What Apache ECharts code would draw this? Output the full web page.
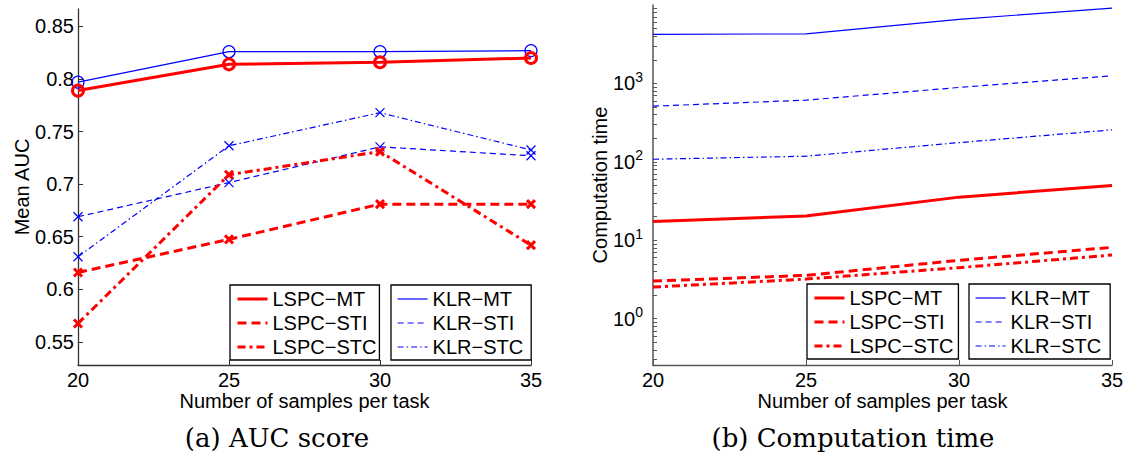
<!DOCTYPE html>
<html>
<head>
<meta charset="utf-8">
<script src="https://cdn.jsdelivr.net/npm/echarts@6/dist/echarts.min.js"></script>
<style>
html, body { margin: 0; padding: 0; background: #fff; }
#chart { width: 1127px; height: 458px; }
</style>
</head>
<body>
<div id="chart"></div>
<script>
// ---------------- data ----------------
const samples = [20, 25, 30, 35];
const nameLspcMT = 'LSPC\u2212MT';
const nameLspcSTI = 'LSPC\u2212STI';
const nameLspcSTC = 'LSPC\u2212STC';
const nameKlrMT = 'KLR\u2212MT';
const nameKlrSTI = 'KLR\u2212STI';
const nameKlrSTC = 'KLR\u2212STC';

const aucLspcMT  = [0.789, 0.814, 0.816, 0.820];
const aucLspcSTI = [0.616, 0.6475, 0.681, 0.681];
const aucLspcSTC = [0.5675, 0.709, 0.731, 0.642];
const aucKlrMT   = [0.797, 0.826, 0.826, 0.827];
const aucKlrSTI  = [0.669, 0.7015, 0.7355, 0.727];
const aucKlrSTC  = [0.631, 0.7365, 0.768, 0.7325];

const timeLspcMT  = [17.3, 20.4, 35.5, 49.9];
const timeLspcSTI = [3.02, 3.57, 5.55, 8.13];
const timeLspcSTC = [2.53, 3.2, 4.48, 6.49];
const timeKlrMT   = [4220, 4290, 6560, 9140];
const timeKlrSTI  = [513, 612, 889, 1250];
const timeKlrSTC  = [108, 118, 176, 256];

const aucTickValues = [0.55, 0.6, 0.65, 0.7, 0.75, 0.8, 0.85];
const timeTickValues = [1, 10, 100, 1000];
const timeMinorTickValues = [0.3, 0.4, 0.5, 0.6, 0.7, 0.8, 0.9,
  2, 3, 4, 5, 6, 7, 8, 9,
  20, 30, 40, 50, 60, 70, 80, 90,
  200, 300, 400, 500, 600, 700, 800, 900,
  2000, 3000, 4000, 5000, 6000, 7000, 8000, 9000];

const xTitle = 'Number of samples per task';
const aucTitle = 'Mean AUC';
const timeTitle = 'Computation time';
const captionA = '(a) AUC score';
const captionB = '(b) Computation time';

// ---------------- styles ----------------
const RED = '#ff0000';
const BLUE = '#0000ff';
const SANS = '"Liberation Sans", Arial, Helvetica, sans-serif';
const SERIF = '"DejaVu Serif", serif';
const X_SYMBOL = 'path://M0,0L10,10M10,0L0,10';

const styles = {};
styles[nameLspcMT]  = { color: RED,  width: 3,   type: 'solid',        symbol: 'circle', size: 11, bw: 3 };
styles[nameLspcSTI] = { color: RED,  width: 3,   type: [9, 5],         symbol: X_SYMBOL, size: 8,  bw: 3 };
styles[nameLspcSTC] = { color: RED,  width: 3,   type: [8, 4, 3, 4],   symbol: X_SYMBOL, size: 8,  bw: 3 };
styles[nameKlrMT]   = { color: BLUE, width: 1.2, type: 'solid',        symbol: 'circle', size: 12, bw: 1.2 };
styles[nameKlrSTI]  = { color: BLUE, width: 1.2, type: [6, 4],         symbol: X_SYMBOL, size: 9,  bw: 1.2 };
styles[nameKlrSTC]  = { color: BLUE, width: 1.2, type: [6, 3, 1.5, 3], symbol: X_SYMBOL, size: 9,  bw: 1.2 };

function pairs(vals) { return samples.map((x, i) => [x, vals[i]]); }

function lineSeries(name, vals, gridIdx, withMarkers) {
  const s = styles[name];
  return {
    name: name,
    type: 'line',
    xAxisIndex: gridIdx,
    yAxisIndex: gridIdx,
    data: pairs(vals),
    symbol: withMarkers ? s.symbol : 'none',
    symbolSize: s.size,
    showSymbol: withMarkers,
    lineStyle: { color: s.color, width: s.width, type: s.type, cap: 'butt' },
    itemStyle: { color: 'rgba(0,0,0,0)', borderColor: s.color, borderWidth: s.bw },
    emphasis: { disabled: true },
    animation: false,
    z: s.color === RED ? 3 : 2
  };
}

function legendBox(names, left, top, padRight) {
  return {
    orient: 'vertical',
    left: left,
    top: top,
    data: names.map(n => ({
      name: n,
      lineStyle: { color: styles[n].color, width: styles[n].width, type: styles[n].type, opacity: 1 },
      itemStyle: { opacity: 0 }
    })),
    itemWidth: 30,
    itemHeight: 14,
    itemGap: 4,
    padding: [4, padRight, 3, 6],
    borderColor: '#000',
    borderWidth: 1.3,
    borderRadius: 0,
    backgroundColor: '#fff',
    selectedMode: false,
    itemStyle: { opacity: 0 },
    textStyle: { fontFamily: SANS, fontSize: 20, color: '#000', lineHeight: 20 }
  };
}

const axisColorL = '#333';
const axisColorR = '#555';

function xAxisDef(gridIdx, color) {
  return {
    gridIndex: gridIdx,
    type: 'value',
    min: 20, max: 35, interval: 5,
    axisLine: { show: true, onZero: false, lineStyle: { color: color, width: 1.3 } },
    axisTick: { show: true, inside: true, length: 5, lineStyle: { color: color, width: 1 } },
    axisLabel: { fontFamily: SANS, fontSize: 20, color: '#000', margin: 7, lineHeight: 16 },
    splitLine: { show: false },
    name: xTitle,
    nameLocation: 'middle',
    nameGap: 28,
    nameMoveOverlap: false,
    nameTextStyle: { fontFamily: SANS, fontSize: 20, color: '#000', lineHeight: 16 }
  };
}

const chart = echarts.init(document.getElementById('chart'), null, { renderer: 'svg' });

const option = {
  animation: false,
  backgroundColor: '#fff',
  grid: [
    { left: 78, right: 596, top: 9, bottom: 93, outerBoundsMode: 'none', containLabel: false },
    { left: 653, right: 15, top: 5, bottom: 93, outerBoundsMode: 'none', containLabel: false }
  ],
  xAxis: [xAxisDef(0, axisColorL), xAxisDef(1, axisColorR)],
  yAxis: [
    {
      gridIndex: 0,
      type: 'value',
      min: 0.528, max: 0.8666,
      axisLine: { show: true, lineStyle: { color: axisColorL, width: 1.3 } },
      axisTick: { show: true, inside: true, length: 5, customValues: aucTickValues, lineStyle: { color: axisColorL } },
      axisLabel: {
        customValues: aucTickValues,
        fontFamily: SANS, fontSize: 20, color: '#000', margin: 4,
        formatter: v => String(Number(v.toFixed(2)))
      },
      splitLine: { show: false },
      name: aucTitle,
      nameLocation: 'middle',
      nameGap: 46,
      nameRotate: 90,
      nameMoveOverlap: false,
      nameTextStyle: { fontFamily: SANS, fontSize: 20, color: '#000' }
    },
    {
      gridIndex: 1,
      type: 'log',
      logBase: 10,
      min: 0.257, max: 10000,
      axisLine: { show: true, lineStyle: { color: axisColorR, width: 1.5 } },
      axisTick: { show: true, inside: true, length: 4, customValues: timeMinorTickValues.concat(timeTickValues), lineStyle: { color: axisColorR } },
      axisLabel: {
        customValues: timeTickValues,
        margin: 10,
        formatter: v => '{b|10}{s|' + Math.round(Math.log10(v)) + '}',
        rich: {
          b: { fontFamily: SANS, fontSize: 20, color: '#000' },
          s: { fontFamily: SANS, fontSize: 14, color: '#000', padding: [0, 0, 13, 0] }
        }
      },
      splitLine: { show: false },
      minorTick: { show: false },
      name: timeTitle,
      nameLocation: 'middle',
      nameGap: 43,
      nameRotate: 90,
      nameMoveOverlap: false,
      nameTextStyle: { fontFamily: SANS, fontSize: 20, color: '#000' }
    }
  ],
  legend: [
    legendBox([nameLspcMT, nameLspcSTI, nameLspcSTC], 230, 285, 3),
    legendBox([nameKlrMT, nameKlrSTI, nameKlrSTC], 391, 285, 8),
    legendBox([nameLspcMT, nameLspcSTI, nameLspcSTC], 807, 284, 5),
    legendBox([nameKlrMT, nameKlrSTI, nameKlrSTC], 969, 284, 9)
  ],
  series: [
    lineSeries(nameKlrMT, aucKlrMT, 0, true),
    lineSeries(nameKlrSTI, aucKlrSTI, 0, true),
    lineSeries(nameKlrSTC, aucKlrSTC, 0, true),
    lineSeries(nameLspcMT, aucLspcMT, 0, true),
    lineSeries(nameLspcSTI, aucLspcSTI, 0, true),
    lineSeries(nameLspcSTC, aucLspcSTC, 0, true),
    lineSeries(nameKlrMT, timeKlrMT, 1, false),
    lineSeries(nameKlrSTI, timeKlrSTI, 1, false),
    lineSeries(nameKlrSTC, timeKlrSTC, 1, false),
    lineSeries(nameLspcMT, timeLspcMT, 1, false),
    lineSeries(nameLspcSTI, timeLspcSTI, 1, false),
    lineSeries(nameLspcSTC, timeLspcSTC, 1, false)
  ],
  graphic: [
    { type: 'text', x: 277, y: 438, style: { text: captionA, font: '26px ' + SERIF, fill: '#000', align: 'center', verticalAlign: 'middle' } },
    { type: 'text', x: 853, y: 438, style: { text: captionB, font: '26px ' + SERIF, fill: '#000', align: 'center', verticalAlign: 'middle' } }
  ]
};

chart.setOption(option);
</script>
</body>
</html>
